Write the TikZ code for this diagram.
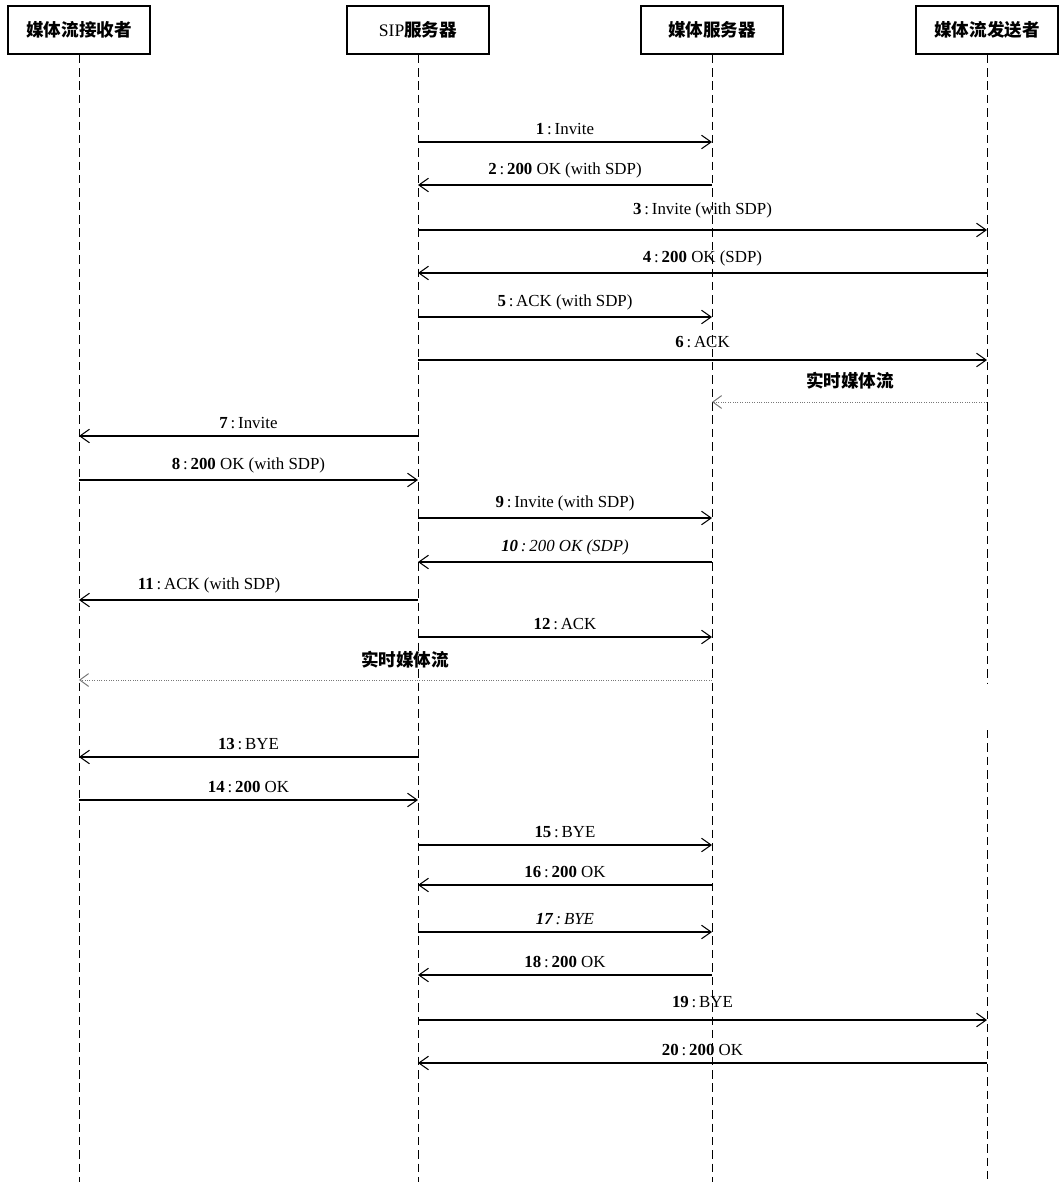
\documentclass[tikz,border=0pt]{standalone}
\usepackage{fontspec}
\setmainfont{Liberation Serif}
\newfontfamily\cjk{Noto Sans CJK SC}
\usepackage{tikz}
\usetikzlibrary{arrows.meta,positioning,calc}
\definecolor{streamgray}{RGB}{120,120,120}
\newcommand\msgno[1]{\textbf{#1}\,:\,}
\tikzset{
  actorbox/.style={draw=black,line width=1.1pt,fill=white,minimum width=3.55cm,
    minimum height=1.2cm,align=center,font=\cjk\bfseries\fontsize{12.5}{14}\selectfont},
  lifeline/.style={draw=black,line width=0.55pt,dash pattern=on 6pt off 3.5pt},
  msgarrow/.style={-{Straight Barb[length=2.4mm,width=3.4mm]},line width=0.75pt,draw=black},
  streamarrow/.style={-{Straight Barb[length=2.2mm,width=3.2mm]},line width=0.7pt,
    draw=streamgray,densely dotted},
  msglabel/.style={above=3.5pt,inner sep=1pt,font=\fontsize{12}{14}\selectfont},
  streamlabel/.style={font=\cjk\bfseries\fontsize{12.5}{14}\selectfont},
}
\begin{document}
\begin{tikzpicture}[x=0.025cm,y=-0.025cm]
  \useasboundingbox (0,0) rectangle (1062,1182);
  % participants
  \node[actorbox] (rec) at (79,30) {媒体流接收者};
  \node[actorbox] (sip) at (418,30) {{\rmfamily\mdseries SIP}服务器};
  \node[actorbox] (ms) at (712,30) {媒体服务器};
  \node[actorbox] (snd) at (987,30) {媒体流发送者};
  % lifeline ends
  \coordinate (recend) at (79,1182);
  \coordinate (sipend) at (418,1182);
  \coordinate (msend) at (712,1182);
  \coordinate (sndgap1) at (987,683);
  \coordinate (sndgap2) at (987,730);
  \coordinate (sndend) at (987,1182);
  \draw[lifeline] (rec) -- (recend);
  \draw[lifeline] (sip) -- (sipend);
  \draw[lifeline] (ms) -- (msend);
  \draw[lifeline] (snd) -- (sndgap1);
  \draw[lifeline] (sndgap2) -- (sndend);
  % message rows on each lifeline
  \foreach \r/\y in {1/142,2/185,3/230,4/273,5/317,6/360,s1/402,7/436,8/480,9/518,
      10/562,11/600,12/637,s2/680,13/757,14/800,15/845,16/885,17/932,18/975,
      19/1020,20/1063}
    \foreach \l/\x in {rec/79,sip/418,ms/712,snd/987}
      \coordinate (\l\r) at (\x,\y);
  % call setup towards the sender
  \draw[msgarrow] (sip1) -- node[msglabel] {\msgno{1}Invite} (ms1);
  \draw[msgarrow] (ms2) -- node[msglabel] {\msgno{2}\textbf{200} OK (with SDP)} (sip2);
  \draw[msgarrow] (sip3) -- node[msglabel,above=7pt] {\msgno{3}Invite (with SDP)} (snd3);
  \draw[msgarrow] (snd4) -- node[msglabel] {\msgno{4}\textbf{200} OK (SDP)} (sip4);
  \draw[msgarrow] (sip5) -- node[msglabel] {\msgno{5}ACK (with SDP)} (ms5);
  \draw[msgarrow] (sip6) -- node[msglabel,above=7pt] {\msgno{6}ACK} (snd6);
  \draw[streamarrow] (snds1) -- (mss1);
  \node[streamlabel] (stream1) at (850,381) {实时媒体流};
  % call setup towards the receiver
  \draw[msgarrow] (sip7) -- node[msglabel] {\msgno{7}Invite} (rec7);
  \draw[msgarrow] (rec8) -- node[msglabel] {\msgno{8}\textbf{200} OK (with SDP)} (sip8);
  \draw[msgarrow] (sip9) -- node[msglabel] {\msgno{9}Invite (with SDP)} (ms9);
  \draw[msgarrow] (ms10) -- node[msglabel] {\itshape\msgno{10}200 OK (SDP)} (sip10);
  \draw[msgarrow] (sip11) -- node[msglabel,xshift=-28] {\msgno{11}ACK (with SDP)} (rec11);
  \draw[msgarrow] (sip12) -- node[msglabel] {\msgno{12}ACK} (ms12);
  \draw[streamarrow] (mss2) -- (recs2);
  \node[streamlabel] (stream2) at (405,660) {实时媒体流};
  % teardown
  \draw[msgarrow] (sip13) -- node[msglabel] {\msgno{13}BYE} (rec13);
  \draw[msgarrow] (rec14) -- node[msglabel] {\msgno{14}\textbf{200} OK} (sip14);
  \draw[msgarrow] (sip15) -- node[msglabel] {\msgno{15}BYE} (ms15);
  \draw[msgarrow] (ms16) -- node[msglabel] {\msgno{16}\textbf{200} OK} (sip16);
  \draw[msgarrow] (sip17) -- node[msglabel] {\itshape\msgno{17}BYE} (ms17);
  \draw[msgarrow] (ms18) -- node[msglabel] {\msgno{18}\textbf{200} OK} (sip18);
  \draw[msgarrow] (sip19) -- node[msglabel,above=7pt] {\msgno{19}BYE} (snd19);
  \draw[msgarrow] (snd20) -- node[msglabel] {\msgno{20}\textbf{200} OK} (sip20);
\end{tikzpicture}
\end{document}
